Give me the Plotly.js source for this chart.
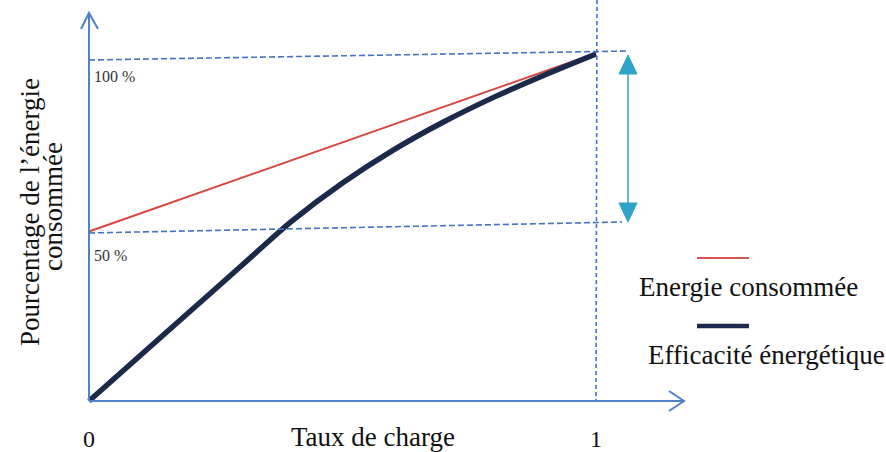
<!DOCTYPE html>
<html><head><meta charset="utf-8">
<script src="https://cdn.plot.ly/plotly-3.0.1.min.js"></script>
<style>html,body{margin:0;padding:0;background:#fff}#chart{width:886px;height:452px}</style>
</head><body><div id="chart"></div>
<script>
// Data
var energieX = [0, 1];
var energieY = [49, 100.5];
var efficaciteX = [0, 0.1, 0.2, 0.3, 0.35, 0.4, 0.5, 0.6, 0.7, 0.8, 0.9, 1];
var efficaciteY = [0, 13, 26, 39, 45.6, 52, 63, 72.5, 80.7, 87.9, 94.3, 100.3];
var seriesNames = ['Energie consommée', 'Efficacité énergétique'];
var tickLabels = ['0', '1'];
var levelLabels = ['100 %', '50 %'];
var axisTitleX = 'Taux de charge';
var axisTitleY = ['Pourcentage de l’énergie', 'consommée'];

// pixel helpers (plot area fills the figure)
function X(px){ return (px - 89) / 507; }
function Y(py){ return (401 - py) / 3.46; }
var axisCol = '#4f81c7', dashCol = '#4472c4', teal = '#2ea3c7';
var serif = 'Liberation Serif, Times New Roman, serif';

function seg(x0,y0,x1,y1,col,w,dash){
  return {type:'line', xref:'x', yref:'y', x0:X(x0), y0:Y(y0), x1:X(x1), y1:Y(y1),
          line:{color:col, width:w, dash:dash||'solid'}};
}
function path(pts, col, w, fill){
  var d = pts.map(function(p,i){ return (i?'L':'M') + X(p[0]) + ',' + Y(p[1]); }).join(' ');
  if (fill) d += ' Z';
  return {type:'path', xref:'x', yref:'y', path:d, line:{color:col, width:w},
          fillcolor: fill ? col : 'rgba(0,0,0,0)'};
}

var shapes = [
  seg(89,60,628,51,dashCol,1.6,'6px,3px'),
  seg(89,233,622,222,dashCol,1.6,'6px,3px'),
  seg(597,0,596,401,dashCol,1.6,'4px,3px'),
  seg(89,401,89,14,axisCol,2),
  path([[81,29],[89,13],[98,29]],axisCol,2,false),
  seg(89,401,683,401,axisCol,2),
  path([[669,391],[684,401],[669,411]],axisCol,2,false),
  seg(628,70,628,208,teal,1.5),
  path([[628,55],[619,74],[637,74]],teal,1,true),
  path([[628,222],[619,203],[637,203]],teal,1,true),
  seg(697,258,749,258,'#d9534f',2),
  seg(697,326,749,326,'#1b2a4a',4.5)
];

function txt(text,px,py,size,opts){
  var a = {xref:'x', yref:'y', x:X(px), y:Y(py), text:text, showarrow:false,
           font:{family:serif, size:size, color:'#111'}, xanchor:'left', yanchor:'middle'};
  for (var k in (opts||{})) a[k] = opts[k];
  return a;
}
var annotations = [
  txt(levelLabels[0],92,76,16,{font:{family:serif,size:16,color:'#333'}}),
  txt(levelLabels[1],92,255,16,{font:{family:serif,size:16,color:'#333'}}),
  txt(tickLabels[0],89,439,24,{xanchor:'center'}),
  txt(tickLabels[1],596,439,24,{xanchor:'center'}),
  txt(axisTitleX,373,437,27,{xanchor:'center'}),
  txt(axisTitleY[0],30,212,27,{xanchor:'center', textangle:-90}),
  txt(axisTitleY[1],53,207,27,{xanchor:'center', textangle:-90}),
  txt(seriesNames[0],637,287,27),
  txt(seriesNames[1],646,355,27)
];

var traces = [
  {x:energieX, y:energieY, mode:'lines', name:seriesNames[0],
   line:{color:'#d9453f', width:2}},
  {x:efficaciteX, y:efficaciteY, mode:'lines', name:seriesNames[1],
   line:{color:'#1b2a4a', width:5.5, shape:'spline', smoothing:1}}
];

var layout = {
  width:886, height:452, margin:{l:0,r:0,t:0,b:0},
  paper_bgcolor:'#fff', plot_bgcolor:'#fff', showlegend:false,
  xaxis:{range:[X(0),X(886)], visible:false, fixedrange:true},
  yaxis:{range:[Y(452),Y(0)], visible:false, fixedrange:true},
  shapes:shapes, annotations:annotations
};
Plotly.newPlot('chart', traces, layout, {staticPlot:true});
</script></body></html>
